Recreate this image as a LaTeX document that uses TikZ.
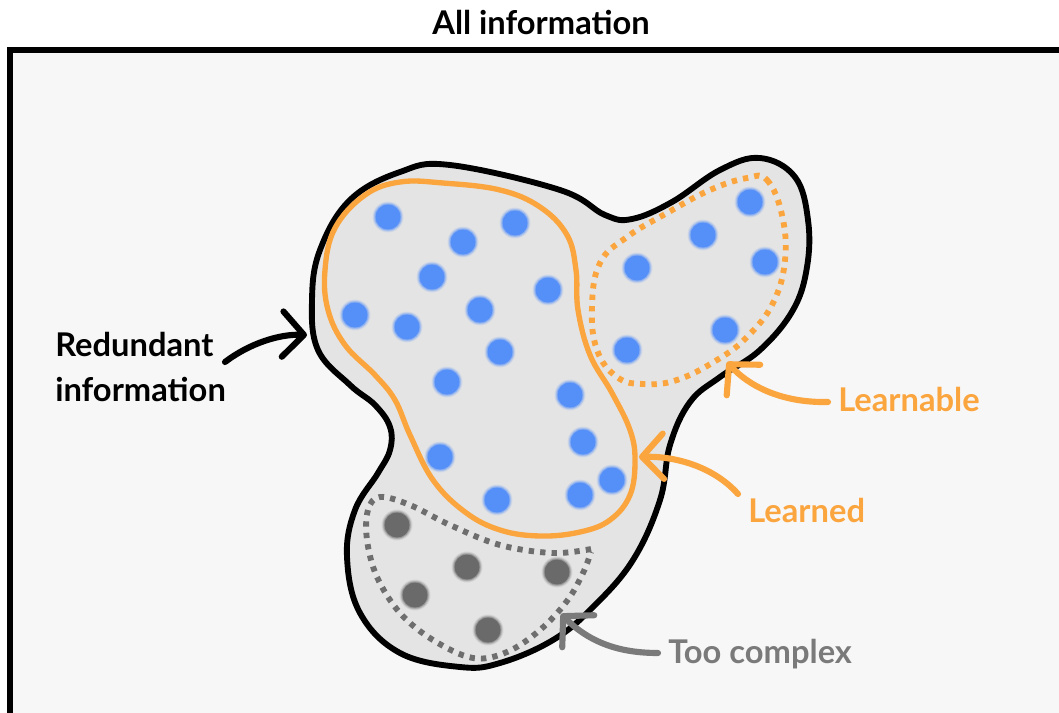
\documentclass[tikz,border=0pt]{standalone}
\usepackage{fontspec}
\setmainfont{Lato}
\usetikzlibrary{arrows.meta}

\definecolor{panel}{HTML}{F7F7F7}
\definecolor{blobfill}{HTML}{E4E4E4}
\definecolor{accent}{HTML}{FBA53F}
\definecolor{dotblue}{HTML}{558FF8}
\definecolor{dotgray}{HTML}{6A6A6A}
\definecolor{muted}{HTML}{7A7A7A}
\definecolor{dashgray}{HTML}{6E6E6E}

\begin{document}
\begin{tikzpicture}[x=0.75pt,y=-0.75pt,
  lbl/.style={font=\fontsize{24.5}{29}\selectfont\bfseries, inner sep=0pt},
  frame/.style={draw=black, line width=4.6pt, fill=panel},
  blob/.style={draw=black, line width=4.4pt, fill=blobfill, line join=round},
  learnedline/.style={draw=accent, line width=4pt},
  learnableline/.style={draw=accent, line width=4.4pt, dash pattern=on 4pt off 4.6pt},
  complexline/.style={draw=dashgray, line width=4.4pt, dash pattern=on 4pt off 4.6pt},
  pointer/.style={line width=4.6pt, line cap=round,
    -{Straight Barb[round, length=16pt, width=34pt, line width=4.6pt]}},
  softdot/.pic={
    \foreach \r/\o in {15.5/0.12, 14.5/0.25, 13.5/0.45, 12.5/1}
      \fill[opacity=\o] (0,0) circle (\r);
  }
]
\path[use as bounding box] (0,0) rectangle (1059,713);
\clip (0,0) rectangle (1059,713);
\fill[white] (0,0) rectangle (1059,713);

% outer frame
\draw[frame] (10,50) rectangle (1090,740);

% title
\node[lbl, anchor=base] (title) at (541,35) {All information};

% the information blob
\draw[blob] plot[smooth cycle, tension=0.65] coordinates {
  (450,165) (560,190) (605,215) (632,219) (672,202) (720,170) (760,158)
  (795,177) (808,220) (807,267) (793,310) (760,350) (720,377) (690,402)
  (670,445) (660,500) (633,560) (593,607) (553,640) (500,663) (460,667)
  (400,653) (360,613) (347,557) (355,510) (378,473) (390,450) (390,427)
  (375,405) (350,385) (318,350) (312,300) (320,250) (350,200) (400,172)};

% learned region
\draw[learnedline] plot[smooth cycle, tension=0.65] coordinates {
  (400,182) (443,183) (500,190) (540,207) (567,235) (576,270) (578,310)
  (590,355) (612,393) (630,430) (635,460) (630,495) (610,520) (580,532)
  (540,536) (500,530) (465,512) (433,480) (410,435) (395,400) (375,375)
  (345,345) (328,310) (325,270) (335,228) (365,195)};

% learnable region
\draw[learnableline] plot[smooth cycle, tension=0.7] coordinates {
  (747,178) (767,180) (782,215) (785,260) (773,303) (747,337) (717,360)
  (677,380) (643,384) (617,377) (597,350) (592,307) (600,263) (627,237)
  (667,213) (710,190)};

% too complex region
\draw[complexline] plot[smooth, tension=0.6] coordinates {
  (591,549) (553,553) (500,545) (450,525) (410,505) (380,497) (368,510)
  (367,540) (377,577) (400,613) (433,640) (473,658) (507,652) (540,630)
  (567,601) (583,573) (591,552)};

% blue points
\foreach \p in {(388,217),(463,242),(515,223),(432,277),(548,290),(355,315),
                (407,327),(480,310),(500,352),(447,382),(570,395),(583,442),
                (440,457),(497,500),(580,495),(612,480),
                (750,202),(703,235),(637,268),(765,262),(725,330),(627,350)}
  \pic[fill=dotblue] at \p {softdot};

% gray points
\foreach \p in {(397,525),(467,567),(557,572),(415,595),(488,630)}
  \pic[fill=dotgray] at \p {softdot};

% labels
\node[lbl, anchor=base west] (redundant) at (55,356) {Redundant};
\node[lbl, anchor=base west] (redundant2) at (55,401) {information};
\node[lbl, anchor=base west, text=accent] (learnable) at (838,411) {Learnable};
\node[lbl, anchor=base west, text=accent] (learned) at (748,522) {Learned};
\node[lbl, anchor=base west, text=muted] (complex) at (668,663) {Too complex};

% pointer ends
\coordinate (redTail) at (225,362);
\coordinate (redTip) at (307,335);
\coordinate (lbTail) at (828,402);
\coordinate (lbTip) at (727,362);
\coordinate (ldTail) at (738,494);
\coordinate (ldTip) at (639,457);
\coordinate (tcTail) at (658,653);
\coordinate (tcTip) at (561,614);

% pointers
\draw[pointer, black] (redTail) .. controls (250,343) and (280,334) .. (redTip);
\draw[pointer, accent] (lbTail) .. controls (780,403) and (748,385) .. (lbTip);
\draw[pointer, accent] (ldTail) .. controls (712,465) and (672,456) .. (ldTip);
\draw[pointer, muted] (tcTail) .. controls (620,653) and (590,643) .. (tcTip);
\end{tikzpicture}
\end{document}
